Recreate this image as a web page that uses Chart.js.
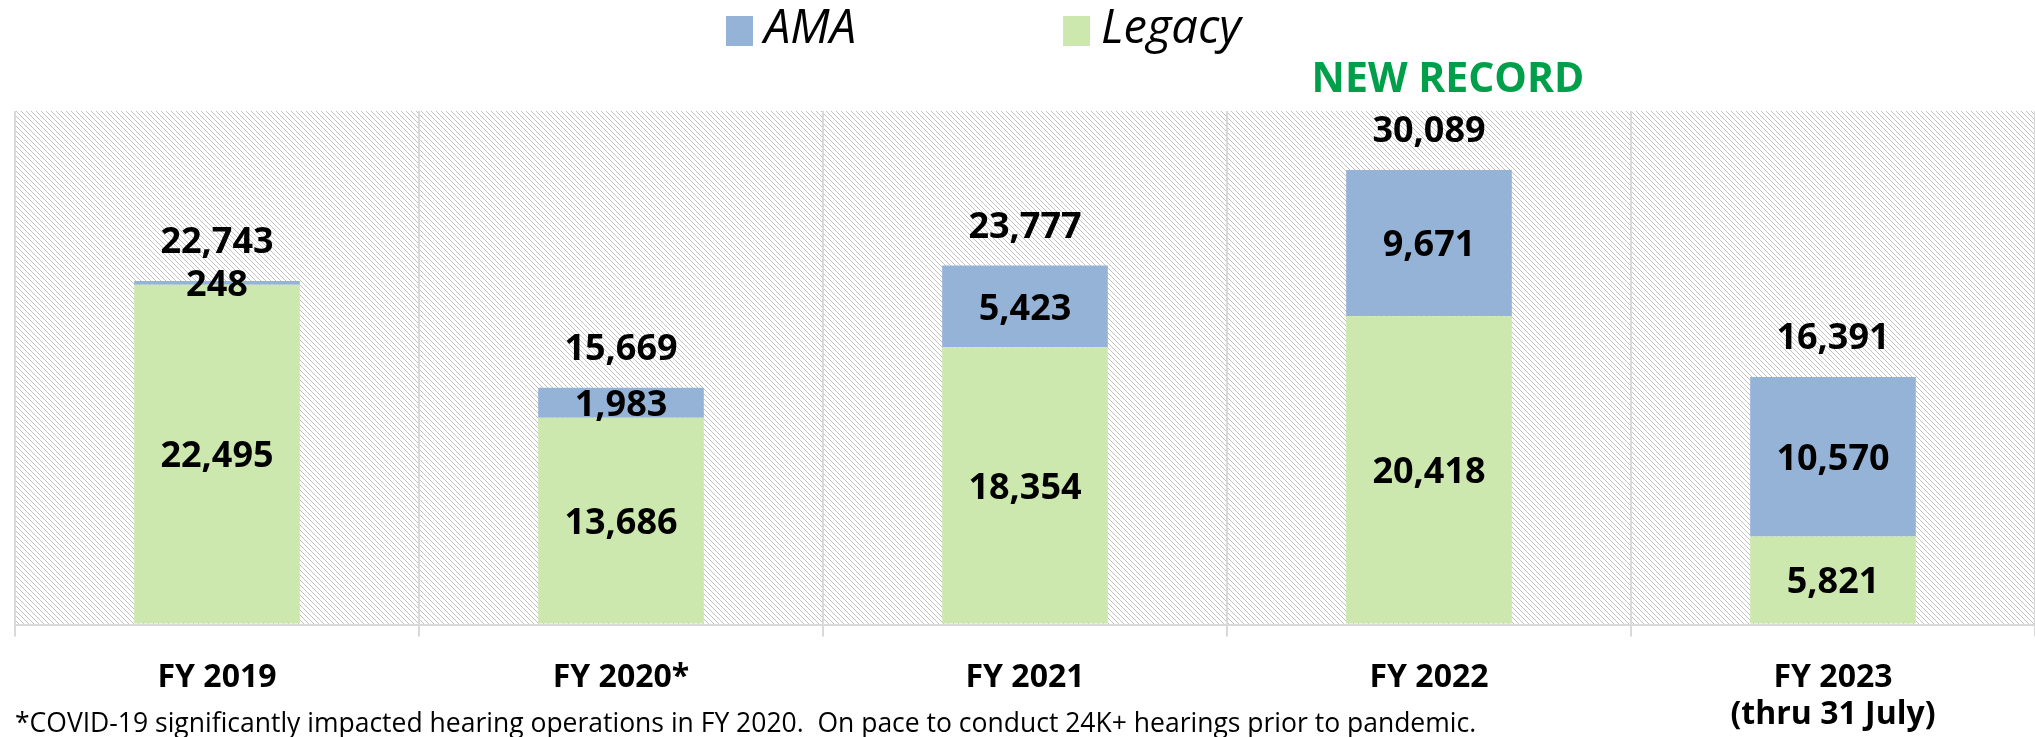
<!DOCTYPE html>
<html>
<head>
<meta charset="utf-8">
<script src="https://cdn.jsdelivr.net/npm/chart.js@4.4.0/dist/chart.umd.min.js"></script>
<style>
  body { margin: 0; background: #fff; }
  #wrap { width: 2035px; height: 737px; position: relative; }
</style>
</head>
<body>
<div id="wrap"><canvas id="chart"></canvas></div>
<script>
const categories = ["FY 2019", "FY 2020*", "FY 2021", "FY 2022", ["FY 2023", "(thru 31 July)"]];
const legacy = [22495, 13686, 18354, 20418, 5821];
const ama = [248, 1983, 5423, 9671, 10570];
const footnote = "*COVID-19 significantly impacted hearing operations in FY 2020.  On pace to conduct 24K+ hearings prior to pandemic.";
const recordText = "NEW RECORD";
const recordIndex = 3;

const FONT = '"Open Sans", sans-serif';
const AMA_COLOR = "#95b3d7";
const LEGACY_COLOR = "#cde8af";
const GRID = "#d9d9d9";

// diagonal hatch for plot background
const makeHatch = function (ctx) {
	const c = document.createElement("canvas");
	c.width = 5;
	c.height = 5;
	const p = c.getContext("2d");
	p.fillStyle = "#fff";
	p.fillRect(0, 0, 5, 5);
	p.strokeStyle = "#c2c2c2";
	p.lineWidth = 1;
	p.beginPath();
	p.moveTo(-1, -1);
	p.lineTo(6, 6);
	p.moveTo(-1, 4);
	p.lineTo(1, 6);
	p.moveTo(4, -1);
	p.lineTo(6, 1);
	p.stroke();
	return ctx.createPattern(c, "repeat");
};

const hatchPlugin = {
	id: "hatch",
	beforeDraw(chart) {
		const { ctx, chartArea: a } = chart;
		ctx.save();
		ctx.fillStyle = makeHatch(ctx);
		ctx.fillRect(a.left, a.top, a.right - a.left, a.bottom - a.top);
		ctx.restore();
	},
};

const fmt = (v) => v.toLocaleString("en-US");

const labelPlugin = {
	id: "valueLabels",
	afterDatasetsDraw(chart) {
		const ctx = chart.ctx;
		ctx.save();
		ctx.fillStyle = "#000";
		ctx.textAlign = "center";
		ctx.textBaseline = "middle";
		ctx.font = "bold 36px " + FONT;
		chart.data.datasets.forEach((ds, i) => {
			chart.getDatasetMeta(i).data.forEach((bar, j) => {
				const { x, y, base } = bar.getProps(["x", "y", "base"], true);
				ctx.fillText(fmt(ds.data[j]), x, (y + base) / 2 + 3);
			});
		});
		// totals above the stack
		const top = chart.getDatasetMeta(1).data;
		top.forEach((bar, j) => {
			const total = legacy[j] + ama[j];
			ctx.fillText(fmt(total), bar.x, bar.y - 38);
		});
		// record note
		const rb = top[recordIndex];
		ctx.fillStyle = "#00a04b";
		ctx.font = "bold 41px " + FONT;
		ctx.fillText(recordText, rb.x + 19, chart.chartArea.top - 31);
		ctx.restore();
	},
};

const legendX = [726, 1063];
const legendPlugin = {
	id: "topLegend",
	afterDraw(chart) {
		const ctx = chart.ctx;
		ctx.save();
		ctx.textAlign = "left";
		ctx.textBaseline = "middle";
		ctx.font = "italic 47px " + FONT;
		const order = [1, 0];
		order.forEach((di, k) => {
			const ds = chart.data.datasets[di];
			ctx.fillStyle = ds.backgroundColor;
			ctx.fillRect(legendX[k], 16, 27, 30);
			ctx.fillStyle = "#000";
			ctx.fillText(ds.label, legendX[k] + 38, 30);
		});
		// footnote
		ctx.font = "26.5px " + FONT;
		ctx.fillText(footnote, 15, 724);
		ctx.restore();
	},
};

const config = {
	type: "bar",
	data: {
		labels: categories,
		datasets: [
			{
				label: "Legacy",
				data: legacy,
				backgroundColor: LEGACY_COLOR,
				barPercentage: 0.41,
				categoryPercentage: 1,
			},
			{
				label: "AMA",
				data: ama,
				backgroundColor: AMA_COLOR,
				barPercentage: 0.41,
				categoryPercentage: 1,
			},
		],
	},
	options: {
		responsive: true,
		maintainAspectRatio: false,
		animation: false,
		layout: { padding: { top: 111, left: 15, right: 0, bottom: 0 } },
		scales: {
			x: {
				stacked: true,
				grid: { color: GRID, lineWidth: 2, offset: true, tickLength: 12 },
				border: { color: GRID, width: 2 },
				ticks: {
					color: "#000",
					padding: 23,
					font: { family: FONT, size: 32, weight: "bold", lineHeight: 1.15 },
				},
				afterFit: (s) => {
					s.height = 112.5;
				},
			},
			y: {
				stacked: true,
				min: 0,
				max: 34000,
				ticks: { display: false, stepSize: 5000 },
				grid: {
					drawTicks: false,
					lineWidth: 2,
					color: (c) => (c.tick && c.tick.value % 5000 === 0 ? GRID : "rgba(0,0,0,0)"),
				},
				border: { display: false },
			},
		},
		plugins: {
			legend: { display: false },
			tooltip: { enabled: false },
		},
	},
	plugins: [hatchPlugin, labelPlugin, legendPlugin],
};

const myChart = new Chart(document.getElementById("chart").getContext("2d"), config);
</script>
</body>
</html>
